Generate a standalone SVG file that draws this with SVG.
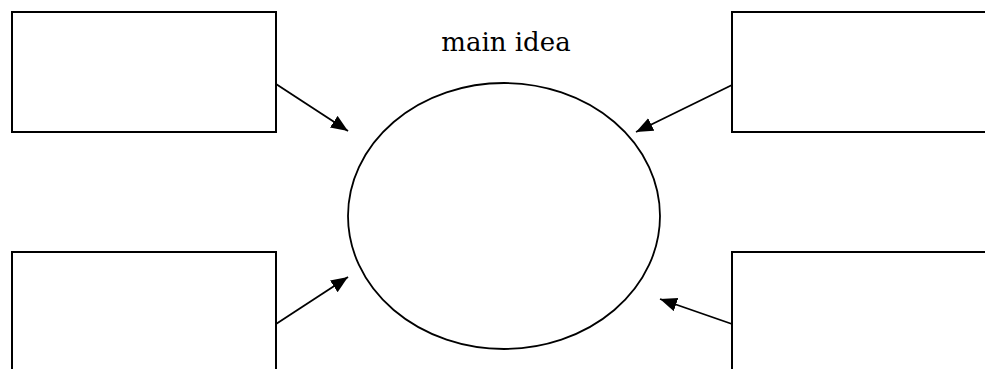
<svg xmlns="http://www.w3.org/2000/svg" width="985" height="369" viewBox="0 0 985 369">
<style>
.box{fill:#fff;stroke:#000;stroke-width:2}
.ell{fill:#fff;stroke:#000;stroke-width:1.8}
.conn{stroke:#000;stroke-width:1.8;fill:none}
.lbl{font-family:"DejaVu Serif","Liberation Serif",serif;font-size:26px;fill:#000}
</style>
<defs>
<marker id="arr" markerUnits="userSpaceOnUse" markerWidth="20" markerHeight="16" refX="17" refY="7" orient="auto">
<path d="M0,0 L17,7 L0,14 z" fill="#000"/>
</marker>
</defs>
<rect width="985" height="369" fill="#fff"/>
<g id="title"><text class="lbl" x="506" y="51" text-anchor="middle">main idea</text></g>
<g id="center"><ellipse class="ell" cx="504" cy="216" rx="156" ry="133"/></g>
<g id="box-tl"><rect class="box" x="12" y="12" width="264" height="120"/></g>
<g id="box-tr"><rect class="box" x="732" y="12" width="270" height="120"/></g>
<g id="box-bl"><rect class="box" x="12" y="252" width="264" height="130"/></g>
<g id="box-br"><rect class="box" x="732" y="252" width="270" height="130"/></g>
<g id="connectors">
<line class="conn" x1="276" y1="84" x2="348" y2="131" marker-end="url(#arr)"/>
<line class="conn" x1="732" y1="85" x2="636" y2="132" marker-end="url(#arr)"/>
<line class="conn" x1="276" y1="324" x2="348" y2="277" marker-end="url(#arr)"/>
<line class="conn" x1="732" y1="324" x2="660" y2="299" marker-end="url(#arr)"/>
</g>
</svg>
